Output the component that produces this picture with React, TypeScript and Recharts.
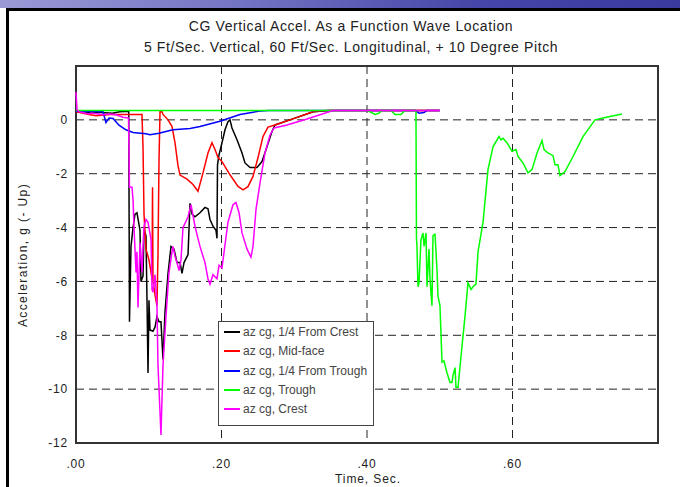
import React from 'react';
import { LineChart, Line, XAxis, YAxis, CartesianGrid, ReferenceArea, Legend } from 'recharts';

// [time (sec), acceleration (g)]
const quarterFromCrest: [number, number][] = [
  [0, 0.3], [0.015, 0.26], [0.03, 0.28], [0.05, 0.25], [0.06, 0.3], [0.0725, 0.32], [0.0735, -7.5],
  [0.0756, -4.7], [0.0784, -4.0], [0.0811, -3.5], [0.0838, -3.45], [0.088, -4.1], [0.0893, -6.0],
  [0.0921, -5.8], [0.0935, -4.1], [0.0962, -4.3], [0.0976, -6.7], [0.099, -9.4], [0.1003, -6.7],
  [0.1017, -7.8], [0.1058, -7.85], [0.1086, -7.7], [0.1113, -7.3], [0.1141, -7.5], [0.1168, -7.5],
  [0.1196, -8.9], [0.1223, -7.15], [0.1265, -5.7], [0.1306, -4.7], [0.1347, -4.8], [0.1388, -5.3],
  [0.143, -5.3], [0.1457, -5.7], [0.1485, -5.3], [0.154, -5.0], [0.1567, -3.1], [0.1595, -3.5],
  [0.1636, -3.6], [0.1704, -3.45], [0.1773, -3.25], [0.1814, -3.3], [0.1842, -3.7], [0.1883, -3.95],
  [0.1924, -4.1], [0.1938, -4.4], [0.1945, -1.67], [0.1966, -1.3], [0.2007, -0.85], [0.2048, -0.37],
  [0.2089, -0.07], [0.2117, 0.0], [0.2144, -0.3], [0.2213, -0.74], [0.2282, -1.23], [0.2323, -1.6],
  [0.2392, -1.77], [0.2488, -1.77], [0.2557, -1.55], [0.2625, -1.0], [0.2694, -0.43], [0.2735, -0.19],
  [0.294, 0.0], [0.326, 0.3], [0.349, 0.35], [0.5, 0.35],
];

const midFace: [number, number][] = [
  [0, 0.3], [0.0179, 0.2], [0.0275, 0.15], [0.0467, 0.2], [0.0907, 0.2], [0.0921, -1.0], [0.0935, -3.5],
  [0.0962, -4.8], [0.1003, -5.2], [0.1045, -5.9], [0.1052, -2.5], [0.1058, -6.0], [0.1086, -6.5],
  [0.1113, -6.9], [0.1127, -5.0], [0.1141, -1.5], [0.1155, 0.3], [0.1182, 0.3], [0.1196, 0.2],
  [0.1265, 0.0], [0.132, -0.25], [0.1361, -0.85], [0.1402, -1.7], [0.143, -2.05], [0.1526, -2.2],
  [0.1608, -2.4], [0.1677, -2.65], [0.1746, -1.97], [0.1814, -1.23], [0.1869, -0.85], [0.1911, -1.1],
  [0.1952, -1.4], [0.2007, -1.55], [0.2117, -2.04], [0.2227, -2.47], [0.2296, -2.6], [0.2364, -2.48],
  [0.2433, -2.1], [0.2502, -1.4], [0.257, -0.62], [0.2639, -0.27], [0.2735, -0.19], [0.2942, 0.0],
  [0.3258, 0.3], [0.345, 0.35], [0.5, 0.35],
];

const quarterFromTrough: [number, number][] = [
  [0, 0.32], [0.0371, 0.3], [0.0412, -0.1], [0.0454, 0.07], [0.0509, 0.05], [0.0591, -0.2],
  [0.0687, -0.37], [0.0783, -0.47], [0.0962, -0.52], [0.1017, -0.55], [0.1141, -0.5], [0.1333, -0.37],
  [0.1429, -0.35], [0.1567, -0.32], [0.1704, -0.25], [0.1979, -0.05], [0.2254, 0.2], [0.2529, 0.33],
  [0.265, 0.35], [0.466, 0.35], [0.4715, 0.25], [0.4784, 0.27], [0.4825, 0.35], [0.5, 0.35],
];

const trough: [number, number][] = [
  [0, 0.35], [0.4, 0.35], [0.4041, 0.3], [0.411, 0.2], [0.4165, 0.25], [0.4206, 0.35], [0.433, 0.35],
  [0.4385, 0.2], [0.4467, 0.2], [0.4522, 0.35], [0.4673, 0.35], [0.468, -4.4], [0.4687, -4.7],
  [0.4701, -6.2], [0.4715, -6.05], [0.4742, -4.45], [0.477, -4.2], [0.4784, -4.7], [0.4811, -4.2],
  [0.4825, -6.2], [0.4852, -4.8], [0.4866, -5.9], [0.4893, -6.9], [0.4907, -4.3], [0.4935, -4.25],
  [0.4962, -5.55], [0.4976, -6.55], [0.5003, -6.9], [0.5031, -9.0], [0.5058, -8.95], [0.51, -9.4],
  [0.5141, -9.75], [0.5168, -9.75], [0.5182, -9.5], [0.521, -9.2], [0.5223, -9.93], [0.5251, -9.93],
  [0.5306, -8.4], [0.5347, -7.3], [0.5388, -6.05], [0.543, -6.3], [0.5457, -6.2], [0.5498, -6.1],
  [0.5526, -4.9], [0.5595, -3.8], [0.5663, -1.85], [0.5732, -1.0], [0.5814, -0.62], [0.5842, -0.74],
  [0.5869, -0.68], [0.5924, -0.85], [0.5993, -1.17], [0.6048, -1.1], [0.6076, -1.36], [0.6144, -1.6],
  [0.6213, -1.97], [0.6268, -1.85], [0.6337, -1.23], [0.6405, -0.77], [0.6433, -1.1], [0.6488, -1.23],
  [0.6557, -1.33], [0.6584, -1.67], [0.6625, -1.67], [0.6653, -2.07], [0.6722, -1.92], [0.6832, -1.36],
  [0.6969, -0.62], [0.7134, 0.0], [0.7244, 0.07], [0.7505, 0.22],
];

const crest: [number, number][] = [
  [0, 1.04], [0.0014, 0.37], [0.0041, 0.3], [0.0179, 0.22], [0.0206, 0.25], [0.0371, 0.19],
  [0.0454, 0.22], [0.055, 0.19], [0.0646, 0.1], [0.0722, 0.07], [0.0735, -2.5], [0.077, -2.5],
  [0.0784, -2.97], [0.0797, -3.96], [0.0825, -5.67], [0.0838, -4.9], [0.0852, -6.97], [0.088, -4.56],
  [0.0907, -5.67], [0.0921, -4.7], [0.0935, -3.96], [0.0962, -3.7], [0.099, -3.8], [0.1031, -4.44],
  [0.1045, -6.3], [0.1058, -6.4], [0.1086, -5.75], [0.1113, -6.9], [0.1127, -9.1], [0.1168, -11.7],
  [0.1196, -9.1], [0.1237, -7.3], [0.1278, -5.67], [0.132, -4.9], [0.1333, -4.7], [0.1361, -5.07],
  [0.1388, -5.3], [0.1416, -5.6], [0.1443, -5.2], [0.1471, -4.0], [0.154, -3.6], [0.1581, -3.15],
  [0.1636, -3.96], [0.1704, -4.7], [0.1773, -5.3], [0.1814, -5.9], [0.1842, -6.1], [0.1883, -5.75],
  [0.1938, -5.9], [0.1966, -5.4], [0.2007, -5.5], [0.2021, -5.2], [0.2089, -3.8], [0.2158, -3.15],
  [0.2199, -3.07], [0.2241, -3.45], [0.2282, -4.2], [0.2351, -4.8], [0.2405, -5.1], [0.2433, -4.7],
  [0.2474, -3.33], [0.2529, -2.35], [0.2598, -1.23], [0.2667, -0.56], [0.2722, -0.3], [0.29, -0.19],
  [0.3175, 0.03], [0.3354, 0.19], [0.3532, 0.35], [0.5, 0.35],
];

const xTicks = [0, 0.2, 0.4, 0.6];
const yTicks = [-12, -10, -8, -6, -4, -2, 0];

const seriesList = [
  { name: 'az cg, 1/4 From Crest', color: '#000000', points: quarterFromCrest },
  { name: 'az cg, Mid-face', color: '#ff0000', points: midFace },
  { name: 'az cg, 1/4 From Trough', color: '#0000ff', points: quarterFromTrough },
  { name: 'az cg, Trough', color: '#00ff00', points: trough },
  { name: 'az cg, Crest', color: '#ff00ff', points: crest },
];

const font = '"Liberation Sans", Arial, sans-serif';

function LegendBox() {
  return (
    <div style={{ width: 154, height: 103, border: '1px solid #444', background: '#fff', position: 'relative' }}>
      {seriesList.map((s, i) => (
        <div key={s.name} style={{ position: 'absolute', left: 5, top: 2 + i * 19.3, height: 16, display: 'flex', alignItems: 'center' }}>
          <div style={{ width: 16, height: 2, background: s.color, marginRight: 3 }} />
          <span style={{ fontFamily: font, fontSize: 12, color: '#444', letterSpacing: 0, whiteSpace: 'nowrap' }}>{s.name}</span>
        </div>
      ))}
    </div>
  );
}

export default function App() {
  return (
    <div style={{ position: 'absolute', left: 0, top: 0, width: 680, height: 487, background: '#fff', overflow: 'hidden' }}>
      <div style={{ position: 'absolute', left: 0, top: 0, width: 680, height: 8, background: 'linear-gradient(90deg, #9a9ad6 0%, #7474c4 35%, #4646a8 70%, #3a3a9c 100%)' }} />
      <div style={{ position: 'absolute', left: 6, top: 8, width: 674, height: 2.5, background: '#000' }} />
      <div style={{ position: 'absolute', left: 6, top: 8, width: 3, height: 479, background: '#000' }} />

      <div style={{ position: 'absolute', left: 11, top: 19, width: 680, textAlign: 'center', fontFamily: font, fontSize: 14, lineHeight: '14px', letterSpacing: 0.6, color: '#222' }}>
        CG Vertical Accel. As a Function Wave Location
      </div>
      <div style={{ position: 'absolute', left: 11, top: 40, width: 680, textAlign: 'center', fontFamily: font, fontSize: 14, lineHeight: '14px', letterSpacing: 0.6, color: '#222' }}>
        5 Ft/Sec. Vertical, 60 Ft/Sec. Longitudinal, + 10 Degree Pitch
      </div>

      <LineChart width={680} height={487} margin={{ top: 66, right: 22, bottom: 14, left: 0 }} style={{ position: 'absolute', left: 0, top: 0 }}>
        <CartesianGrid stroke="#222" strokeDasharray="8 5" strokeWidth={1} verticalPoints={[221.5, 367, 512.5]} />
        <XAxis
          type="number"
          dataKey="t"
          domain={[0, 0.8]}
          ticks={xTicks}
          allowDuplicatedCategory={false}
          height={30}
          axisLine={false}
          tickLine={false}
          tickMargin={10}
          tick={{ fontFamily: font, fontSize: 12, fill: '#222', letterSpacing: 0.8 }}
          tickFormatter={(v: number) => '.' + String(Math.round(v * 100)).padStart(2, '0')}
          label={() => (
            <text x={368} y={483} textAnchor="middle" fontFamily={font} fontSize={12} fill="#222" letterSpacing={0.9}>
              Time, Sec.
            </text>
          )}
        />
        <YAxis
          type="number"
          domain={[-12, 2]}
          ticks={yTicks}
          width={76}
          axisLine={false}
          tickLine={false}
          tick={{ fontFamily: font, fontSize: 12, fill: '#222', letterSpacing: 0.8 }}
          label={() => (
            <text x={27} y={255} transform="rotate(-90 27 255)" textAnchor="middle" fontFamily={font} fontSize={12} fill="#222" letterSpacing={1.4}>
              Acceleration, g (- Up)
            </text>
          )}
        />
        <ReferenceArea x1={0} x2={0.8} y1={-12} y2={2} fill="none" stroke="#333" strokeWidth={2} />
        {seriesList.map((s) => (
          <Line
            key={s.name}
            data={s.points.map(([t, g]) => ({ t, g }))}
            dataKey="g"
            name={s.name}
            type="linear"
            stroke={s.color}
            strokeWidth={1.5}
            dot={false}
            isAnimationActive={false}
          />
        ))}
        <Legend
          layout="vertical"
          align="center"
          verticalAlign="middle"
          content={() => <LegendBox />}
          wrapperStyle={{ left: 218, top: 321, width: 156, height: 105 }}
        />
      </LineChart>
    </div>
  );
}
